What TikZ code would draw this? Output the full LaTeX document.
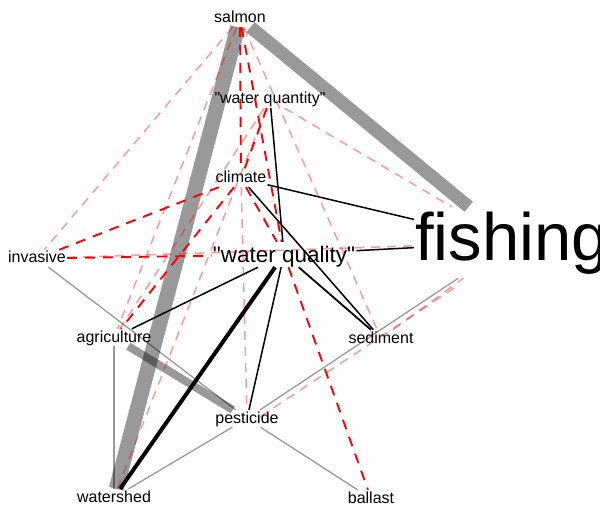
\documentclass[tikz,border=0pt]{standalone}
\font\lsSmall="Liberation Sans" at 16pt
\font\lsMid="Liberation Sans" at 22.5pt
\font\lsBig="Liberation Sans" at 67pt
\begin{document}
\begin{tikzpicture}[x=1pt,y=-1pt,
  lab/.style={anchor=base,inner xsep=1pt,inner ysep=0pt,font=\lsSmall,text height=13pt,text depth=4pt},
  labmid/.style={anchor=base,inner xsep=1pt,inner ysep=0pt,font=\lsMid,text height=20pt,text depth=5pt},
  labbig/.style={anchor=base,inner xsep=1pt,inner ysep=0pt,font=\lsBig,text height=54pt,text depth=17pt},
  gthick/.style={draw=black,draw opacity=0.4,line cap=butt},
  gthin/.style={draw=black,draw opacity=0.4,line width=1.3pt},
  blk/.style={draw=black,line width=1.5pt},
  rd/.style={draw=red,line width=1.9pt,dash pattern=on 10pt off 8pt},
  pk/.style={draw=red,draw opacity=0.4,line width=1.5pt,dash pattern=on 9pt off 7pt}]
\useasboundingbox (0,0) rectangle (600,505);
% nodes
\node[lab] (S) at (240,23) {salmon};
\node[lab] (Q) at (270,104) {"water quantity"};
\node[lab] (C) at (241,183) {climate};
\node[labbig] (F) at (512,261) {fishing};
\node[lab] (I) at (37,263) {invasive};
\node[labmid] (W) at (284,262) {"water quality"};
\node[lab] (A) at (114,342) {agriculture};
\node[lab] (D) at (381,343) {sediment};
\node[lab] (P) at (247,423) {pesticide};
\node[lab] (H) at (114,502) {watershed};
\node[lab] (B) at (371,503) {ballast};
% grey edges
\draw[gthick,line width=13pt] (S) -- (F);
\draw[gthick,line width=15pt] (S) -- (H);
\draw[gthick,line width=8pt] (A) -- (P);
\draw[gthin] (I) -- (P);
\draw[gthin] (P) -- (B);
\draw[gthin] (P) -- (F);
\draw[gthin] (P) -- (H);
\draw[gthin] (A) -- (H);
% black edges
\draw[blk] (Q) -- (W);
\draw[blk] (C) -- (F);
\draw[blk] (C) -- (D);
\draw[blk] (W) -- (F);
\draw[blk] (W) -- (A);
\draw[blk,line width=4pt] (W) -- (H);
\draw[blk] (W) -- (P);
\draw[blk,line width=1.8pt] (W) -- (D);
% pink dashed edges
\draw[pk] (S) -- (I);
\draw[pk] (S) -- (A);
\draw[pk] (S) -- (D);
\draw[pk] (C) -- (P);
\draw[pk] (Q) -- (F);
\draw[pk] (I) -- (F);
\draw[pk] (H) -- (Q);
\draw[pk,transform canvas={yshift=-7pt}] (P) -- (F);
\draw[pk] (D) -- (F);
\draw[pk] (Q) -- (A);
% red dashed edges
\draw[rd] (S) -- (C);
\draw[rd] (S) -- (W);
\draw[rd] (I) -- (C);
\draw[rd] (I) -- (W);
\draw[rd] (C) -- (A);
\draw[rd] (Q) -- (C);
\draw[rd] (C) -- (W);
\draw[rd] (W) -- (B);
\end{tikzpicture}
\end{document}
